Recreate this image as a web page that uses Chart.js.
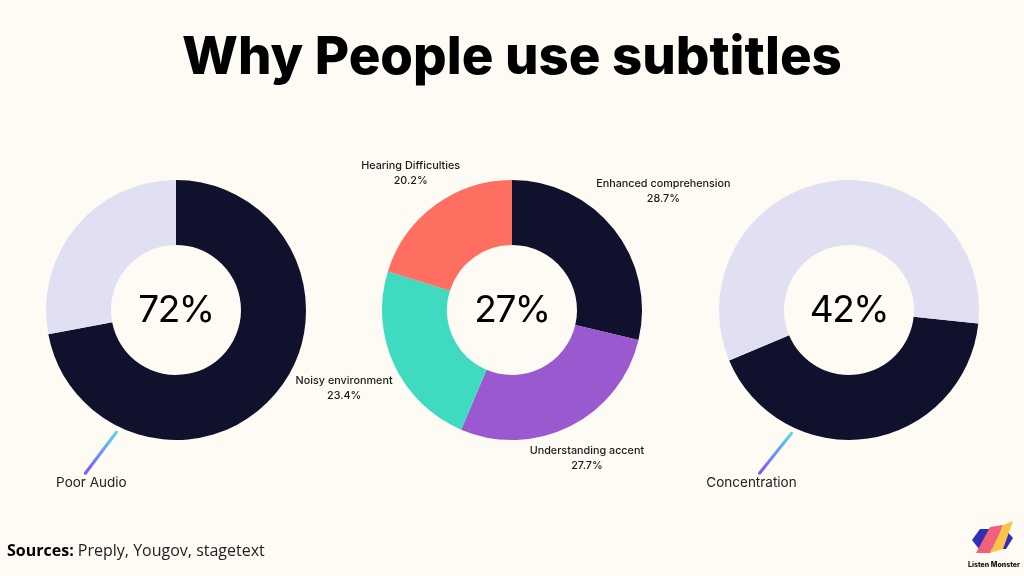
<!DOCTYPE html>
<html>
<head>
<meta charset="utf-8">
<script src="https://cdn.jsdelivr.net/npm/chart.js@4.4.1/dist/chart.umd.min.js"></script>
<style>
    html, body { margin: 0; padding: 0; }
    body { width: 1024px; height: 576px; background: #fdfbf4; position: relative; overflow: hidden; font-family: Inter, "Noto Sans", sans-serif; }
    canvas.layer { position: absolute; left: 0; top: 0; }
    #title { position: absolute; left: 0; width: 1024px; top: 23px; text-align: center; font-size: 52.8px; font-weight: 800; color: #000; }
    #sources { position: absolute; left: 7px; top: 539px; font-family: "Open Sans", sans-serif; font-size: 16px; color: #222; }
    #sources b { color: #000; }
    #logo { position: absolute; left: 966px; top: 516px; }
</style>
</head>
<body>
<div id="title">Why People use subtitles</div>
<canvas class="layer" id="poor-audio" width="1024" height="576"></canvas>
<canvas class="layer" id="reasons" width="1024" height="576"></canvas>
<canvas class="layer" id="concentration" width="1024" height="576"></canvas>
<div id="sources"><b>Sources:</b> Preply, Yougov, stagetext</div>
<svg id="logo" width="56" height="56" viewBox="966 516 56 56">
    <polygon points="972,540 980,529 1005,529 1013,538 1006,549 979,549" fill="#2d2fb8"/>
    <polygon points="976,553 990,527 1003,525 990,553" fill="#f2607a"/>
    <polygon points="990,553 1003,525 1013,521 1003,549" fill="#fbc34a"/>
    <text x="994" y="567" text-anchor="middle" font-family="Inter, sans-serif" font-size="7" font-weight="800" fill="#111">Listen Monster</text>
</svg>
<script>
"use strict";
(function () {
    // data
    var poorAudioLabels = ["Poor Audio", "Other"];
    var poorAudioShares = [72, 28];
    var reasonLabels = ["Enhanced comprehension", "Understanding accent", "Noisy environment", "Hearing Difficulties"];
    var reasonShares = [28.7, 27.7, 23.4, 20.2];
    var concentrationLabels = ["Concentration", "Other"];
    var concentrationShares = [42, 58];
    var centerTexts = ["72%", "27%", "42%"];

    var navy = "#10112d";
    var lavender = "#e0e0f2";

    var centerText = {
        id: "centerText",
        afterDraw: function (chart, args, opts) {
            var arc = chart.getDatasetMeta(0).data[0];
            var ctx = chart.ctx;
            ctx.save();
            ctx.fillStyle = "#000";
            ctx.font = "400 37px Inter, sans-serif";
            ctx.letterSpacing = "-1.5px";
            ctx.textAlign = "center";
            ctx.textBaseline = "middle";
            ctx.fillText(opts.text, arc.x, arc.y + 1);
            ctx.restore();
        }
    };

    var arcLabels = {
        id: "arcLabels",
        afterDraw: function (chart, args, opts) {
            if (!opts.gaps) return;
            var ctx = chart.ctx;
            var meta = chart.getDatasetMeta(0);
            var data = chart.data.datasets[0].data;
            ctx.save();
            ctx.fillStyle = "#1a1a1a";
            ctx.textAlign = "center";
            ctx.textBaseline = "middle";
            ctx.font = "500 10.8px Inter, sans-serif";
            meta.data.forEach(function (arc, i) {
                var mid = (arc.startAngle + arc.endAngle) / 2;
                var r = arc.outerRadius + opts.gaps[i];
                var x = arc.x + Math.cos(mid) * r;
                var y = arc.y + Math.sin(mid) * r;
                ctx.fillText(chart.data.labels[i], x, y - 7);
                ctx.fillText(data[i].toFixed(1) + "%", x, y + 8);
            });
            ctx.restore();
        }
    };

    var callout = {
        id: "callout",
        afterDraw: function (chart, args, opts) {
            if (!opts.text) return;
            var ctx = chart.ctx;
            var arc = chart.getDatasetMeta(0).data[0];
            var a = (opts.angle - 90) * Math.PI / 180;
            var x1 = arc.x + Math.cos(a) * (arc.outerRadius + 6);
            var y1 = arc.y + Math.sin(a) * (arc.outerRadius + 6);
            var x2 = x1 + opts.dx;
            var y2 = y1 + opts.dy;
            var grad = ctx.createLinearGradient(x1, y1, x2, y2);
            grad.addColorStop(0, "#55d9ea");
            grad.addColorStop(1, "#7e55ff");
            ctx.save();
            ctx.strokeStyle = grad;
            ctx.lineWidth = 3;
            ctx.lineCap = "round";
            ctx.beginPath();
            ctx.moveTo(x1, y1);
            ctx.lineTo(x2, y2);
            ctx.stroke();
            ctx.fillStyle = "#222";
            ctx.font = "400 13.5px Inter, sans-serif";
            ctx.textAlign = "center";
            ctx.textBaseline = "top";
            ctx.fillText(opts.text, x2 + opts.textDx, y2 + 3);
            ctx.restore();
        }
    };

    function makeDonut(id, labels, values, colors, area, rotation, pluginOpts) {
        var ctx = document.getElementById(id).getContext("2d");
        return new Chart(ctx, {
            type: "doughnut",
            data: {
                labels: labels,
                datasets: [{
                    data: values,
                    backgroundColor: colors,
                    borderWidth: 0
                }]
            },
            options: {
                responsive: false,
                animation: false,
                events: [],
                cutout: "50%",
                rotation: rotation,
                layout: { padding: area },
                plugins: {
                    legend: { display: false },
                    tooltip: { enabled: false },
                    centerText: { text: pluginOpts.center },
                    arcLabels: { gaps: pluginOpts.gaps || null },
                    callout: pluginOpts.callout || {}
                }
            },
            plugins: [centerText, arcLabels, callout]
        });
    }

    makeDonut("poor-audio", poorAudioLabels, poorAudioShares, [navy, lavender],
        { left: 46, right: 718, top: 180, bottom: 136 }, 0,
        { center: centerTexts[0], callout: { text: "Poor Audio", angle: 206, dx: -31, dy: 41, textDx: 6 } });

    makeDonut("reasons", reasonLabels, reasonShares, [navy, "#9b59cf", "#3fdbc1", "#ff6f61"],
        { left: 382, right: 382, top: 180, bottom: 136 }, 0,
        { center: centerTexts[1], gaps: [63, 36, 55, 41] });

    makeDonut("concentration", concentrationLabels, concentrationShares, [navy, lavender],
        { left: 719, right: 45, top: 180, bottom: 136 }, 96,
        { center: centerTexts[2], callout: { text: "Concentration", angle: 205, dx: -32, dy: 40, textDx: -8 } });
})();
</script>
</body>
</html>
